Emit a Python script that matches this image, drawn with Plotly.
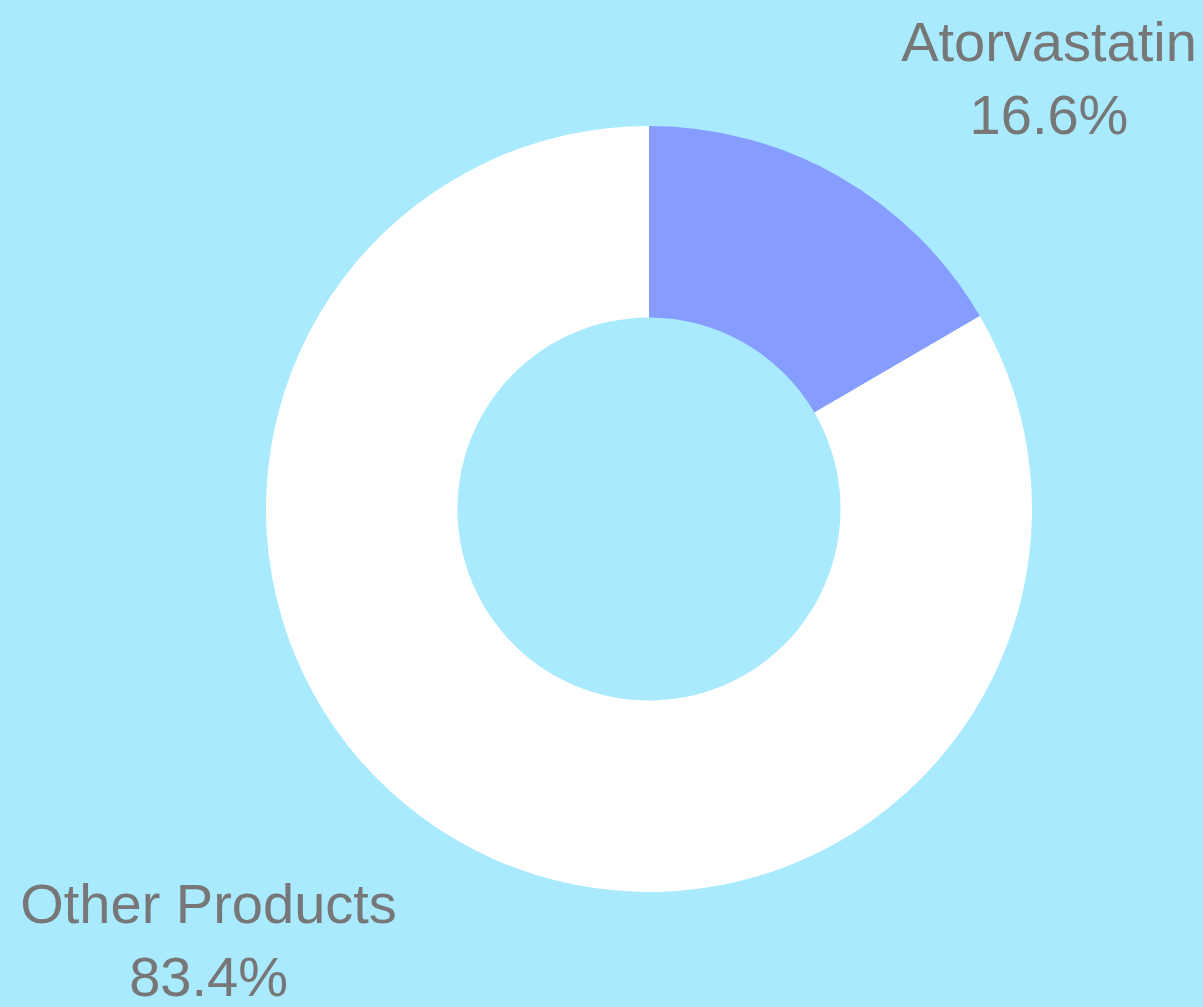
import plotly.graph_objects as go

labels = ["Atorvastatin", "Other Products"]
values = [16.6, 83.4]
colors = ["#869CFF", "#FFFFFF"]

W, H = 1203, 1007
cx, cy = 649, 509          # donut centre (px from top-left)
r_ring = 383               # drawn ring radius
r_text = 438               # radius used to place the outside labels


def dom(r):
    return dict(x=[(cx - r) / W, (cx + r) / W],
                y=[(H - cy - r) / H, (H - cy + r) / H])


fig = go.Figure()
# visible donut
fig.add_trace(go.Pie(
    labels=labels, values=values, hole=0.5, sort=False,
    direction="clockwise", rotation=0,
    marker=dict(colors=colors, line=dict(width=0)),
    textinfo="none", showlegend=False, hoverinfo="label+percent",
    domain=dom(r_ring),
))
# transparent copy carrying the outside labels
fig.add_trace(go.Pie(
    labels=labels, values=values, hole=0.5, sort=False,
    direction="clockwise", rotation=0,
    marker=dict(colors=["rgba(0,0,0,0)"] * len(labels), line=dict(width=0)),
    textposition="outside", automargin=False,
    texttemplate="%{label}<br>%{percent:.1%}",
    textfont=dict(family="Liberation Sans, Arial, sans-serif", size=56, color="#777777"),
    showlegend=False, hoverinfo="skip",
    domain=dom(r_text),
))

fig.update_layout(
    width=W, height=H,
    paper_bgcolor="#A9EAFE", plot_bgcolor="#A9EAFE",
    margin=dict(l=0, r=0, t=0, b=0),
)

fig.write_html(
    "out.html",
    config={"displayModeBar": False},
    post_script="document.body.style.margin='0';document.body.style.background='#A9EAFE';",
)
